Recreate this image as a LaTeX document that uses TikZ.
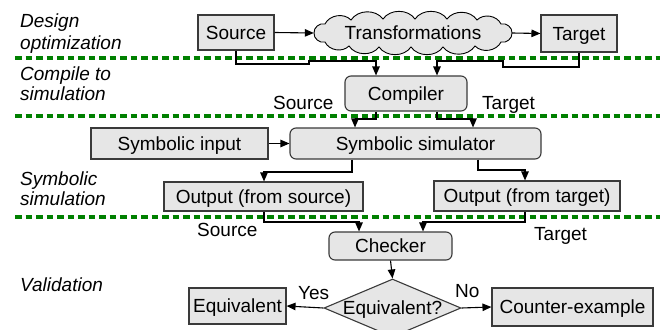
\documentclass[tikz,border=0pt]{standalone}
\usepackage{fontspec}
\setmainfont{Liberation Sans}
\usetikzlibrary{shapes.geometric,arrows.meta,calc}
\definecolor{boxfill}{HTML}{E6E6E6}
\definecolor{boxline}{HTML}{3A3A3A}
\definecolor{sepgreen}{HTML}{008000}
\tikzset{
  base/.style={inner sep=0pt, font=\fontsize{19}{22}\selectfont, text height=13.6pt, text depth=0pt},
  box/.style={base, draw=boxline, fill=boxfill, line width=1.1pt},
  rbox/.style={box, rounded corners=6pt},
  conn/.style={draw=black, line width=1.1pt, -{Triangle[length=9pt,width=7.5pt]}},
  sep/.style={draw=sepgreen, line width=4pt, dash pattern=on 6.5pt off 4pt},
  phase/.style={base, font=\fontsize{19}{22}\selectfont\itshape, anchor=base west},
  puff/.style={bend left=55},
}
\begin{document}
\begin{tikzpicture}[x=1pt,y=-1pt]
\useasboundingbox (0,0) rectangle (660,329);
\fill[white] (0,0) rectangle (660,329);

% separators
\coordinate (s1a) at (15,58); \coordinate (s1b) at (660,58);
\coordinate (s2a) at (15,116); \coordinate (s2b) at (660,116);
\coordinate (s3a) at (15,217); \coordinate (s3b) at (660,217);
\draw[sep] (s1a) -- (s1b);
\draw[sep] (s2a) -- (s2b);
\draw[sep] (s3a) -- (s3b);

% phase labels
\node[phase] (p1a) at (20,28) {Design};
\node[phase] (p1b) at (20,49) {optimization};
\node[phase] (p2a) at (20,80) {Compile to};
\node[phase] (p2b) at (20,100) {simulation};
\node[phase] (p3a) at (20,185) {Symbolic};
\node[phase] (p3b) at (20,205) {simulation};
\node[phase] (p4a) at (20,291) {Validation};

% cloud outline
\begin{scope}[shift={(413,33)}]
\draw[line width=0.9pt, fill=boxfill]
  (-99,0) to[puff] (-88,-9) to[puff] (-62,-13) to[puff] (-30,-14) to[puff] (2,-14)
  to[puff] (34,-14) to[puff] (64,-13) to[puff] (88,-9) to[puff] (99,0)
  to[puff] (88,9) to[puff] (62,13) to[puff] (30,14) to[puff] (-2,14)
  to[puff] (-34,14) to[puff] (-64,13) to[puff] (-88,9) to[puff] cycle;
\end{scope}

% nodes
\node[box, minimum width=76pt, minimum height=35pt] (src) at (236,32.5) {Source};
\node[box, minimum width=76pt, minimum height=37pt] (tgt) at (579,33.5) {Target};
\node[base, minimum width=198pt, minimum height=36pt] (tr) at (413,33) {Transformations};
\node[rbox, minimum width=122pt, minimum height=35pt] (comp) at (406,93.5) {Compiler};
\node[box, minimum width=177pt, minimum height=31pt] (sin) at (179.5,143.5) {Symbolic input};
\node[rbox, minimum width=251pt, minimum height=31pt] (sim) at (415.5,143.5) {Symbolic simulator};
\node[box, minimum width=199pt, minimum height=29pt] (os) at (263.5,196.5) {Output (from source)};
\node[box, minimum width=186pt, minimum height=30pt] (ot) at (527,196) {Output (from target)};
\node[rbox, minimum width=123pt, minimum height=28pt] (chk) at (390.5,246) {Checker};
\node[diamond, draw=boxline, fill=boxfill, line width=1.1pt, inner sep=0pt, minimum width=137pt, minimum height=58pt, label={[base]center:Equivalent?}] (dia) at (392.5,308) {};
\node[box, minimum width=97pt, minimum height=36pt] (eq) at (237.5,306) {Equivalent};
\node[box, minimum width=161pt, minimum height=38pt] (ce) at (572.5,307) {Counter-example};

% connector labels
\node[base, anchor=base west] (lsrc1) at (273,109) {Source};
\node[base, anchor=base west] (ltgt1) at (482,109) {Target};
\node[base, anchor=base west] (lsrc2) at (197,236) {Source};
\node[base, anchor=base west] (ltgt2) at (534,240) {Target};
\node[base, anchor=base west] (lyes) at (298,299) {Yes};
\node[base, anchor=base west] (lno) at (455,297) {No};

% design optimization
\draw[conn] (src.east) -- (tr.west);
\draw[conn] (tr.east) -- (tgt.west);

% to compiler
\draw[conn] (src.south) -- (236,64) -- (309,64) -- (309,61) -- (376,61) -- ($(comp.north)+(-30,0)$);
\draw[conn] (tgt.south) -- (579,67) -- (503,67) -- (503,61) -- (437,61) -- ($(comp.north)+(31,0)$);

% compiler to simulator
\draw[conn] ($(comp.south)+(-30,0)$) -- (376,119) -- (355,119) -- ($(sim.north)+(-60.5,0)$);
\draw[conn] ($(comp.south)+(31,0)$) -- (437,119) -- (473,119) -- ($(sim.north)+(57.5,0)$);

\draw[conn] (sin.east) -- (sim.west);

% simulator to outputs
\draw[conn] ($(sim.south)+(-63.5,0)$) -- (352,172) -- (264,172) -- ($(os.north)+(0.5,0)$);
\draw[conn] ($(sim.south)+(62.5,0)$) -- (478,170) -- (525,170) -- ($(ot.north)+(-2,0)$);

% outputs to checker
\draw[conn] ($(os.south)+(0.5,0)$) -- (264,222) -- (359,222) -- ($(chk.north)+(-31.5,0)$);
\draw[conn] ($(ot.south)+(-2,0)$) -- (525,222) -- (423,222) -- ($(chk.north)+(32.5,0)$);

% validation
\draw[conn] (chk.south) -- (dia.north);
\draw[conn] (dia.west) -- (eq.east);
\draw[conn] (dia.east) -- (ce.west);
\end{tikzpicture}
\end{document}
